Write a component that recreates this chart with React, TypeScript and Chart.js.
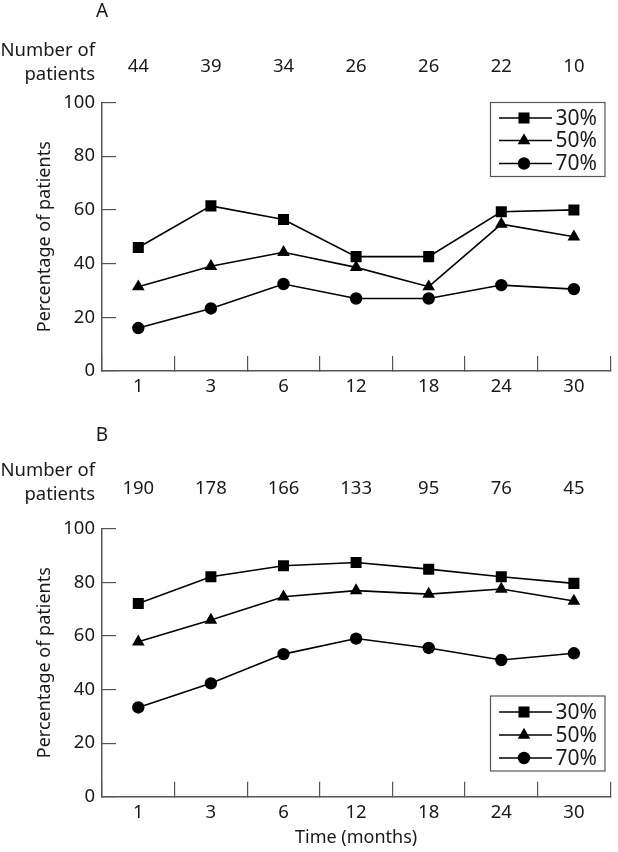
import React, { useEffect, useRef } from 'react';
import { Chart, registerables } from 'chart.js';

Chart.register(...registerables);

// ---- data ----
const months = ['1', '3', '6', '12', '18', '24', '30'];
const patientsA = [44, 39, 34, 26, 26, 22, 10];
const patientsB = [190, 178, 166, 133, 95, 76, 45];
const seriesNames = ['30%', '50%', '70%'];
const pointStyles = ['rect', 'triangle', 'circle'];

const a30 = [46.0, 61.5, 56.4, 42.6, 42.6, 59.3, 60.0];
const a50 = [31.4, 39.0, 44.2, 38.6, 31.4, 54.7, 50.0];
const a70 = [16.0, 23.3, 32.4, 27.0, 27.0, 32.0, 30.5];

const b30 = [72.1, 82.1, 86.2, 87.4, 84.9, 82.1, 79.6];
const b50 = [57.8, 65.9, 74.6, 76.9, 75.6, 77.5, 73.0];
const b70 = [33.3, 42.3, 53.2, 59.0, 55.5, 51.0, 53.5];

const yMin = 0;
const yMax = 100;
const yStep = 20;

// ---- styles ----
const FONT = '"Noto Sans", sans-serif';
const AXIS = '#555';
const INK = '#1a1a1a';
const pointSizes = [7.8, 7.3, 6.2];

function drawMarker(ctx: CanvasRenderingContext2D, style: string, x: number, y: number, r: number) {
  ctx.beginPath();
  if (style === 'rect') {
    const s = Math.SQRT1_2 * r;
    ctx.rect(x - s, y - s, 2 * s, 2 * s);
  } else if (style === 'triangle') {
    let rad = 0;
    ctx.moveTo(x + Math.sin(rad) * r, y - Math.cos(rad) * r);
    rad += (2 * Math.PI) / 3;
    ctx.lineTo(x + Math.sin(rad) * r, y - Math.cos(rad) * r);
    rad += (2 * Math.PI) / 3;
    ctx.lineTo(x + Math.sin(rad) * r, y - Math.cos(rad) * r);
    ctx.closePath();
  } else {
    ctx.arc(x, y, r, 0, Math.PI * 2);
  }
  ctx.fill();
}

type PanelProps = {
  letter: string;
  counts: number[];
  series: number[][];
  height: number;
  top: number;
  xAxisHeight: number;
  legend: { x: number; y: number; w: number; h: number; rows: number[] };
  xTitle: boolean;
  labelBase: { letter: number; line1: number; line2: number; counts: number };
};

function Panel(props: PanelProps) {
  const ref = useRef<HTMLCanvasElement | null>(null);
  useEffect(() => {
    const canvas = ref.current;
    if (!canvas) return;
    const { letter, counts, series, height, top, xAxisHeight, legend, xTitle, labelBase } = props;

    const overlay = {
      id: 'overlay' + letter,
      afterDraw(chart: any) {
        const ctx = chart.ctx as CanvasRenderingContext2D;
        const xs = chart.scales.x;
        ctx.save();
        ctx.fillStyle = INK;
        ctx.textBaseline = 'alphabetic';
        // panel letter
        ctx.font = `19px ${FONT}`;
        ctx.textAlign = 'center';
        ctx.fillText(letter, chart.chartArea.left, labelBase.letter);
        // number of patients
        ctx.font = `18.5px ${FONT}`;
        ctx.textAlign = 'right';
        ctx.fillText('Number of', chart.chartArea.left - 7, labelBase.line1);
        ctx.fillText('patients', chart.chartArea.left - 7, labelBase.line2);
        ctx.textAlign = 'center';
        counts.forEach((c, i) => {
          ctx.fillText(String(c), xs.getPixelForValue(i), labelBase.counts);
        });
        // legend
        ctx.strokeStyle = AXIS;
        ctx.lineWidth = 1.2;
        ctx.strokeRect(legend.x, legend.y, legend.w, legend.h);
        ctx.font = `21px ${FONT}`;
        ctx.textAlign = 'left';
        ctx.textBaseline = 'middle';
        seriesNames.forEach((name, i) => {
          const yy = legend.y + legend.rows[i];
          ctx.strokeStyle = '#000';
          ctx.lineWidth = 1.5;
          ctx.beginPath();
          ctx.moveTo(legend.x + 8.5, yy);
          ctx.lineTo(legend.x + 61.5, yy);
          ctx.stroke();
          ctx.fillStyle = '#000';
          drawMarker(ctx, pointStyles[i], legend.x + 33.5, yy, pointSizes[i]);
          ctx.fillStyle = INK;
          ctx.fillText(name, legend.x + 65, yy + 1);
        });
        ctx.restore();
      },
    };

    const chart = new Chart(canvas, {
      type: 'line',
      data: {
        labels: months,
        datasets: series.map((d, i) => ({
          label: seriesNames[i],
          data: d,
          borderColor: '#000',
          backgroundColor: '#000',
          borderWidth: 1.6,
          pointStyle: pointStyles[i] as any,
          pointRadius: pointSizes[i],
          pointBackgroundColor: '#000',
          pointBorderColor: '#000',
          pointBorderWidth: 0,
          tension: 0,
          fill: false,
        })),
      },
      options: {
        animation: false,
        responsive: false,
        devicePixelRatio: 1,
        events: [],
        layout: { padding: { left: 0, right: 1, top: top, bottom: 0 } },
        plugins: {
          legend: { display: false },
          tooltip: { enabled: false },
          title: { display: false },
        },
        scales: {
          x: {
            type: 'category',
            offset: true,
            grid: {
              display: true,
              drawOnChartArea: false,
              offset: true,
              tickLength: -15,
              color: AXIS,
              lineWidth: 1.2,
            },
            border: { display: true, color: AXIS, width: 1.5 },
            ticks: {
              autoSkip: false,
              maxRotation: 0,
              padding: 20,
              color: INK,
              font: { family: FONT, size: 18.5 },
            },
            title: {
              display: xTitle,
              text: 'Time (months)',
              color: INK,
              font: { family: FONT, size: 18 },
              padding: { top: 0, bottom: 3 },
            },
            afterFit: (scale: any) => {
              scale.height = xAxisHeight;
            },
          },
          y: {
            min: yMin,
            max: yMax,
            grid: {
              display: true,
              drawOnChartArea: false,
              tickLength: -14,
              color: AXIS,
              lineWidth: 1.2,
            },
            border: { display: true, color: AXIS, width: 1.5 },
            ticks: {
              stepSize: yStep,
              padding: 21,
              color: INK,
              font: { family: FONT, size: 18.5 },
            },
            title: {
              display: true,
              text: 'Percentage of patients',
              color: INK,
              font: { family: FONT, size: 18 },
              padding: { top: 34, bottom: 0 },
            },
            afterFit: (scale: any) => {
              scale.width = 102;
            },
          },
        },
      },
      plugins: [overlay],
    });
    return () => chart.destroy();
  }, []);

  return (
    <canvas
      ref={ref}
      width={618}
      height={props.height}
      style={{ display: 'block', width: 618, height: props.height }}
    />
  );
}

export default function App() {
  return (
    <div style={{ position: 'absolute', left: 0, top: 0, width: 618, height: 852, background: '#fff' }}>
      <Panel
        letter="A"
        counts={patientsA}
        series={[a30, a50, a70]}
        height={420}
        top={102.5}
        xAxisHeight={49}
        legend={{ x: 490.5, y: 102.5, w: 114.5, h: 74, rows: [15.5, 38, 61] }}
        xTitle={false}
        labelBase={{ letter: 17, line1: 56, line2: 80, counts: 72 }}
      />
      <Panel
        letter="B"
        counts={patientsB}
        series={[b30, b50, b70]}
        height={432}
        top={108.7}
        xAxisHeight={55.3}
        legend={{ x: 490.5, y: 276, w: 114.5, h: 75, rows: [16, 39, 62] }}
        xTitle={true}
        labelBase={{ letter: 21, line1: 56, line2: 80, counts: 74 }}
      />
    </div>
  );
}
